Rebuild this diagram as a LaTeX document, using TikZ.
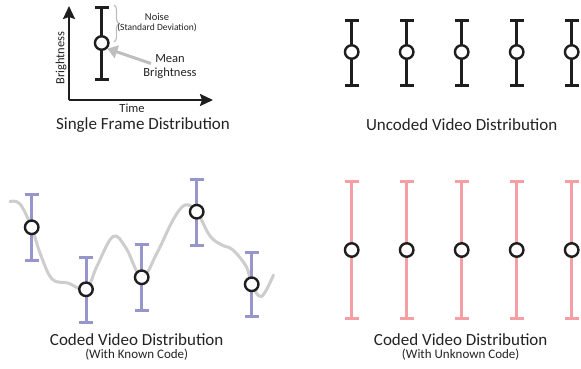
\documentclass[tikz,border=0pt]{standalone}
\usepackage{fontspec}
\setmainfont{Carlito}
\usepackage{tikz}
\usetikzlibrary{arrows.meta,positioning,calc,decorations.pathreplacing}
\definecolor{ink}{RGB}{35,35,35}
\definecolor{barblack}{RGB}{30,30,30}
\definecolor{knownbar}{RGB}{150,150,205}
\definecolor{unknownbar}{RGB}{245,158,163}
\definecolor{soft}{RGB}{190,190,190}
\definecolor{trace}{RGB}{205,205,205}
\tikzset{
  mean/.style={circle,draw=barblack,line width=2.4pt,fill=white,minimum size=13.5pt,inner sep=0pt},
  errbar/.style={line width=3pt,{Bar[width=14pt]}-{Bar[width=14pt]}},
  title/.style={font=\fontsize{17}{19}\selectfont,text=ink},
  subtitle/.style={font=\fontsize{13}{15}\selectfont,text=ink},
  axlabel/.style={font=\fontsize{12.5}{13.5}\selectfont,text=ink},
}

\begin{document}
\begin{tikzpicture}[x=1pt,y=-1pt]
  \useasboundingbox (0,0) rectangle (581,368);
  \def\dx{55}   % spacing of the right-hand columns
  \def\xo{351.7} % first right-hand column

  % ---- single frame: axes
  \coordinate (orig) at (69,100);
  \coordinate (ytip) at (69,6);
  \coordinate (xtip) at (213,100);
  \draw[barblack,line width=2.2pt,-{Stealth[length=13pt,width=12pt,inset=2pt]}] (orig) -- (ytip);
  \draw[barblack,line width=2.2pt,-{Stealth[length=13pt,width=12pt,inset=2pt]}] (orig) -- (xtip);
  \node[axlabel,rotate=90] (ylab) at (61,58) {Brightness};
  \node[axlabel] (xlab) at (132,108) {Time};

  % ---- single frame: one error bar
  \coordinate (st) at (101.7,6);
  \coordinate (sb) at (101.7,81);
  \draw[errbar,barblack] (st) -- (sb);
  \node[mean] (sm) at (101.7,43) {};
  \draw[decorate,decoration={brace,amplitude=5pt},soft,line width=1.2pt]
        (114,5) -- (114,42);
  \node[font=\fontsize{10.5}{11}\selectfont,text=ink] (noise) at (157,17) {Noise};
  \node[font=\fontsize{9.5}{10}\selectfont,text=ink] (std) at (157,27.5) {(Standard Deviation)};
  \node[axlabel,align=center] (meanlab) at (170,66.5) {Mean\\Brightness};
  \coordinate (mtail) at (151,63.5);
  \draw[soft,line width=3pt,-{Triangle[length=10pt,width=13pt]}] (mtail) -- (sm.south east);
  \node[title] (t1) at (143,125) {Single Frame Distribution};

  % ---- uncoded video
  \foreach \i in {0,...,4}{
    \coordinate (ut\i) at ({\xo+\i*\dx},18.5);
    \coordinate (ub\i) at ({\xo+\i*\dx},86.5);
    \draw[errbar,barblack] (ut\i) -- (ub\i);
    \node[mean] (um\i) at ({\xo+\i*\dx},52) {};
  }
  \node[title] (t2) at (461.7,125) {Uncoded Video Distribution};

  % ---- coded video, known code
  \draw[trace,line width=3pt,line cap=round] plot[smooth,tension=0.6] coordinates {
    (10,201.5) (20,204) (31.7,227.3) (40,253) (52,279) (68,283) (86,289.3)
    (97,266) (113,236.5) (126,248) (141.7,277.3) (157,253) (173,220) (185,205)
    (196.7,211.7) (210,236) (222,245) (233,250) (246.5,267) (251.7,284.3)
    (261.5,296.5) (273.5,275)};
  \foreach \n/\x/\top/\mid/\bot in {1/31.7/193/227.3/261.5,2/86/255.5/289.3/323.7,
        3/141.7/243/277.3/312,4/196.7/177.5/211.7/246.5,5/251.7/250.5/284.3/318}{
    \coordinate (kt\n) at (\x,\top);
    \coordinate (kb\n) at (\x,\bot);
    \draw[errbar,knownbar] (kt\n) -- (kb\n);
    \node[mean] (km\n) at (\x,\mid) {};
  }
  \node[title] (t3) at (136.7,340) {Coded Video Distribution};
  \node[subtitle] (s3) at (136.7,355) {(With Known Code)};

  % ---- coded video, unknown code
  \foreach \i in {0,...,4}{
    \coordinate (nt\i) at ({\xo+\i*\dx},180);
    \coordinate (nb\i) at ({\xo+\i*\dx},320);
    \draw[errbar,unknownbar] (nt\i) -- (nb\i);
    \node[mean] (nm\i) at ({\xo+\i*\dx},250) {};
  }
  \node[title] (t4) at (460.7,340) {Coded Video Distribution};
  \node[subtitle] (s4) at (460.7,355) {(With Unknown Code)};
\end{tikzpicture}
\end{document}
